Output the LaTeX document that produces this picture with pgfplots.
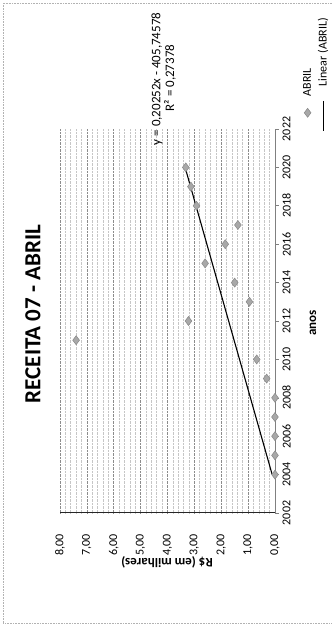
\documentclass[border=0pt]{standalone}
\usepackage{graphicx}
\usepackage{pgfplots}
\usepackage{pgfplotstable}
\pgfplotsset{compat=1.18}
\usepackage{fontspec}
\setmainfont{Carlito}
\definecolor{mk}{HTML}{A8A8A8}
\definecolor{mkd}{HTML}{888888}
\pgfplotsset{
  vmark legend/.style={legend image code/.code={\draw[##1, overlay] plot coordinates {(4.5bp,-15bp)};}},
  vline legend/.style={legend image code/.code={\draw[##1, overlay] (6bp,-3bp) -- (6bp,-33bp);}},
}
\pgfplotstableread{
year value
2004 0.00
2005 0.00
2006 0.00
2007 0.00
2008 0.00
2009 0.31
2010 0.68
2011 7.40
2012 3.22
2013 0.95
2014 1.50
2015 2.60
2016 1.85
2017 1.38
2018 2.92
2019 3.13
2020 3.32
}\abril
\begin{document}
\begin{tikzpicture}
\useasboundingbox (-60bp,-116bp) rectangle (272bp,513bp);
\draw[gray!60, densely dotted, line width=0.6bp] (-57bp,-110bp) rectangle (290bp,510bp);
\begin{axis}[
  at={(0,0)}, anchor=south west,
  scale only axis, width=215bp, height=384bp,
  xmin=0, xmax=8, x dir=reverse,
  ymin=2002, ymax=2022,
  axis x line*=bottom, axis y line*=right,
  xtick={0,1,...,8},
  xticklabels={{0,00},{1,00},{2,00},{3,00},{4,00},{5,00},{6,00},{7,00},{8,00}},
  ytick={2002,2004,...,2022},
  yticklabels={2002,2004,2006,2008,2010,2012,2014,2016,2018,2020,2022},
  minor x tick num=4,
  xmajorgrids, xminorgrids,
  major grid style={gray!90, densely dotted, line width=0.7bp},
  minor grid style={gray!45, densely dotted, line width=0.5bp},
  tick align=outside,
  major tick length=4bp, minor tick length=0pt,
  x axis line style={black!85, line width=1bp},
  y axis line style={gray, line width=0.8bp},
  xtick style={draw=none},
  ytick style={gray, line width=0.6bp},
  /pgf/number format/assume math mode=true,
  xticklabel style={font=\fontsize{12bp}{14bp}\selectfont, rotate=90, anchor=east},
  xticklabel shift=14bp,
  yticklabel style={font=\fontsize{12bp}{14bp}\selectfont, rotate=90, anchor=north},
  legend columns=2,
  legend style={at={(axis description cs:1.116,1.0755)}, anchor=south west,
    draw=none, fill=none, font=\fontsize{12bp}{14bp}\selectfont,
    nodes={anchor=south west, inner sep=0bp},
    /tikz/every even column/.append style={column sep=7bp},
    /tikz/every odd column/.append style={column sep=0bp}},
]
\addplot[only marks, mark=diamond*, mark size=4.5bp,
  mark options={fill=mk, draw=mkd, line width=0.5bp}, vmark legend]
  table[x=value, y=year]{\abril};
\addlegendentry{\rotatebox{90}{ABRIL}}
\addplot[black, line width=1.1bp, vline legend]
  coordinates {(0.1043,2004) (3.3446,2020)};
\addlegendentry{\rotatebox{90}{\hspace{10bp}Linear (ABRIL)}}
\end{axis}
\node[rotate=90, font=\fontsize{23bp}{27bp}\selectfont\bfseries] at (-27bp,199bp) {RECEITA 07 - ABRIL};
\node[rotate=180, font=\fontsize{13bp}{15bp}\selectfont\bfseries] at (107bp,-49bp) {R\$ (em milhares)};
\node[rotate=90, font=\fontsize{13bp}{15bp}\selectfont\bfseries] at (253bp,190bp) {anos};
\node[rotate=90, font=\fontsize{13bp}{15bp}\selectfont] at (97bp,434bp) {y = 0,20252x - 405,74578};
\node[rotate=90, font=\fontsize{13bp}{15bp}\selectfont] at (110bp,435bp) {R² = 0,27378};
\end{tikzpicture}
\end{document}
